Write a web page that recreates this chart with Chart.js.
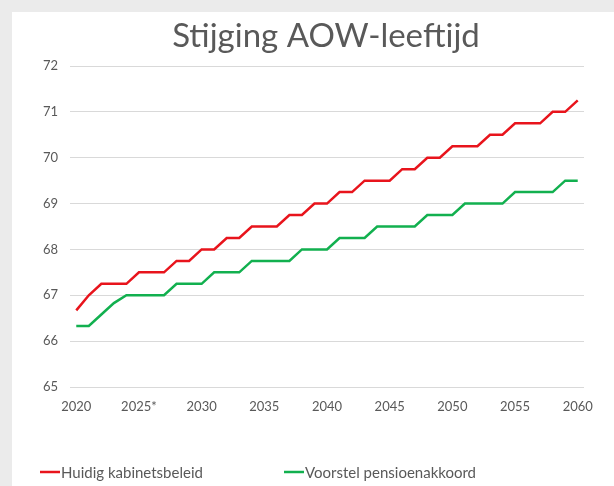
<!DOCTYPE html>
<html>
<head>
<meta charset="utf-8">
<title>Stijging AOW-leeftijd</title>
<script src="https://cdn.jsdelivr.net/npm/chart.js@4/dist/chart.umd.min.js"></script>
<style>
    html, body { margin: 0; padding: 0; background: #ebebeb; overflow: hidden; }
    #panel { position: absolute; left: 12px; top: 12px; width: 602px; height: 474px; background: #fff; }
    canvas { display: block; }
</style>
</head>
<body>
<div id="panel"><canvas id="chart" width="602" height="474"></canvas></div>
<script>
// Jaren op de x-as (2025 met sterretje)
const years = [
    '2020', '2021', '2022', '2023', '2024', '2025*', '2026', '2027', '2028', '2029',
    '2030', '2031', '2032', '2033', '2034', '2035', '2036', '2037', '2038', '2039',
    '2040', '2041', '2042', '2043', '2044', '2045', '2046', '2047', '2048', '2049',
    '2050', '2051', '2052', '2053', '2054', '2055', '2056', '2057', '2058', '2059',
    '2060'
];

// AOW-leeftijd in jaren
const huidigKabinetsbeleid = [
    66.67, 67, 67.25, 67.25, 67.25, 67.5, 67.5, 67.5, 67.75, 67.75,
    68, 68, 68.25, 68.25, 68.5, 68.5, 68.5, 68.75, 68.75, 69,
    69, 69.25, 69.25, 69.5, 69.5, 69.5, 69.75, 69.75, 70, 70,
    70.25, 70.25, 70.25, 70.5, 70.5, 70.75, 70.75, 70.75, 71, 71,
    71.25
];

const voorstelPensioenakkoord = [
    66.33, 66.33, 66.58, 66.83, 67, 67, 67, 67, 67.25, 67.25,
    67.25, 67.5, 67.5, 67.5, 67.75, 67.75, 67.75, 67.75, 68, 68,
    68, 68.25, 68.25, 68.25, 68.5, 68.5, 68.5, 68.5, 68.75, 68.75,
    68.75, 69, 69, 69, 69, 69.25, 69.25, 69.25, 69.25, 69.5,
    69.5
];

const seriesNames = ['Huidig kabinetsbeleid', 'Voorstel pensioenakkoord'];
const seriesColors = ['#e8141c', '#12b04f'];

const yTicks = [65, 66, 67, 68, 69, 70, 71, 72];

const chartTitle = 'Stijging AOW-leeftijd';
const textColor = '#595959';
const fontFamily = 'Lato, "Open Sans", sans-serif';

// Titel en legenda zoals in de Excel-grafiek
const excelDecor = {
    id: 'excelDecor',
    afterDraw(chart) {
        const ctx = chart.ctx;
        ctx.save();

        // titel
        ctx.fillStyle = textColor;
        ctx.font = '33px ' + fontFamily;
        ctx.textAlign = 'center';
        ctx.textBaseline = 'middle';
        ctx.fillText(chartTitle, 314, 24);

        // legenda onderaan
        const starts = [28, 272];
        const y = 460;
        ctx.font = '15px ' + fontFamily;
        ctx.textAlign = 'left';
        chart.data.datasets.forEach((ds, i) => {
            const x = starts[i];
            ctx.strokeStyle = ds.borderColor;
            ctx.lineWidth = 2.5;
            ctx.beginPath();
            ctx.moveTo(x, y);
            ctx.lineTo(x + 20, y);
            ctx.stroke();
            ctx.fillStyle = textColor;
            ctx.fillText(ds.label, x + 21, y + 1);
        });
        ctx.restore();
    }
};

new Chart(document.getElementById('chart'), {
    type: 'line',
    data: {
        labels: years,
        datasets: [
            {
                label: seriesNames[0],
                data: huidigKabinetsbeleid,
                borderColor: seriesColors[0],
                backgroundColor: seriesColors[0],
                borderWidth: 2.5,
                pointRadius: 0,
                tension: 0
            },
            {
                label: seriesNames[1],
                data: voorstelPensioenakkoord,
                borderColor: seriesColors[1],
                backgroundColor: seriesColors[1],
                borderWidth: 2.5,
                pointRadius: 0,
                tension: 0
            }
        ]
    },
    options: {
        responsive: false,
        animation: false,
        layout: {
            padding: { left: 0, right: 30, top: 54, bottom: 60 }
        },
        plugins: {
            legend: { display: false },
            tooltip: { enabled: false },
            title: { display: false }
        },
        scales: {
            x: {
                offset: true,
                grid: { display: false },
                border: { display: false },
                ticks: {
                    autoSkip: false,
                    maxRotation: 0,
                    padding: 4,
                    color: textColor,
                    font: { family: fontFamily, size: 13 },
                    callback: function (value, index) {
                        return index % 5 === 0 ? this.getLabelForValue(value) : '';
                    }
                },
                afterFit(scale) { scale.height = 39; }
            },
            y: {
                min: yTicks[0],
                max: yTicks[yTicks.length - 1],
                afterBuildTicks(scale) {
                    scale.ticks = yTicks.map(v => ({ value: v }));
                },
                grid: { color: '#d9d9d9', lineWidth: 1, drawTicks: false },
                border: { display: false },
                ticks: {
                    padding: 12,
                    color: textColor,
                    font: { family: fontFamily, size: 13 }
                },
                afterFit(scale) { scale.width = 58; }
            }
        }
    },
    plugins: [excelDecor]
});
</script>
</body>
</html>
